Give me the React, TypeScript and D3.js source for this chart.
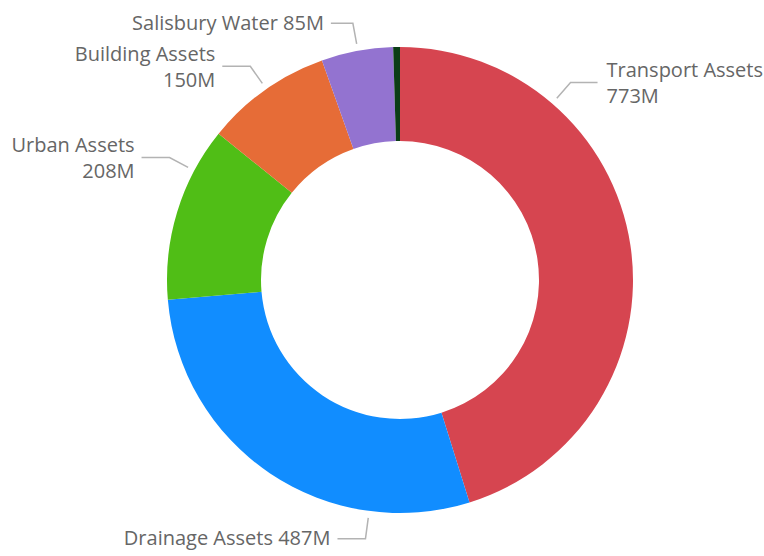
import React from "react";
import * as d3 from "d3";

const categories = ["Transport Assets", "Drainage Assets", "Urban Assets", "Building Assets", "Salisbury Water", "Other"];
const values = [773, 487, 208, 150, 85, 8];
const valueLabels = ["773M", "487M", "208M", "150M", "85M", ""];
const colors = ["#D64550", "#118DFF", "#50BE16", "#E66C37", "#9373D0", "#0B3D16"];
// label layout: anchor angle (degrees, clockwise from top), leader tail length, two-line flag
const labelAngles = [40.8, 187.6, 298, 325, 349.6, null];
const tailLengths = [27, 28, 28, 28, 22, 0];
const twoLine = [true, false, true, true, false, false];

const W = 764, H = 556;
const cx = 400, cy = 280, R = 233, r0 = 139;

export default function App() {
  const pie = d3.pie<number>().value((d) => d).sort(null);
  const arcs = pie(values);
  const arc = d3.arc<d3.PieArcDatum<number>>().innerRadius(r0).outerRadius(R);
  const font = "'Open Sans', sans-serif";
  const fs = 20;
  return (
    <svg width={W} height={H} style={{ position: "absolute", left: 0, top: 0, background: "#fff" }}>
      <g transform={`translate(${cx},${cy})`}>
        {arcs.map((a, i) => (
          <path key={i} d={arc(a) || ""} fill={colors[i]} />
        ))}
        {arcs.map((a, i) => {
          const ang = labelAngles[i];
          if (ang == null) return null;
          const t = (ang * Math.PI) / 180;
          const p1 = [240 * Math.sin(t), -240 * Math.cos(t)];
          const p2 = [261 * Math.sin(t), -261 * Math.cos(t)];
          const right = Math.sin(t) > 0;
          const p3 = [p2[0] + (right ? tailLengths[i] : -tailLengths[i]), p2[1]];
          const tx = p3[0] + (right ? 9 : -7);
          const anchor = right ? "start" : "end";
          const name = categories[i];
          return (
            <g key={"l" + i}>
              <polyline
                points={[p1, p2, p3].map((p) => p.join(",")).join(" ")}
                fill="none"
                stroke="#b3b3b3"
                strokeWidth={1.5}
              />
              {twoLine[i] ? (
                <text fontFamily={font} fontSize={fs} fill="#666666" textAnchor={anchor}>
                  <tspan x={tx} y={p3[1] - 5}>{name}</tspan>
                  <tspan x={tx} y={p3[1] + 21}>{valueLabels[i]}</tspan>
                </text>
              ) : (
                <text x={tx} y={p3[1] + 6.5} fontFamily={font} fontSize={fs} fill="#666666" textAnchor={anchor}>
                  {name} {valueLabels[i]}
                </text>
              )}
            </g>
          );
        })}
      </g>
    </svg>
  );
}
